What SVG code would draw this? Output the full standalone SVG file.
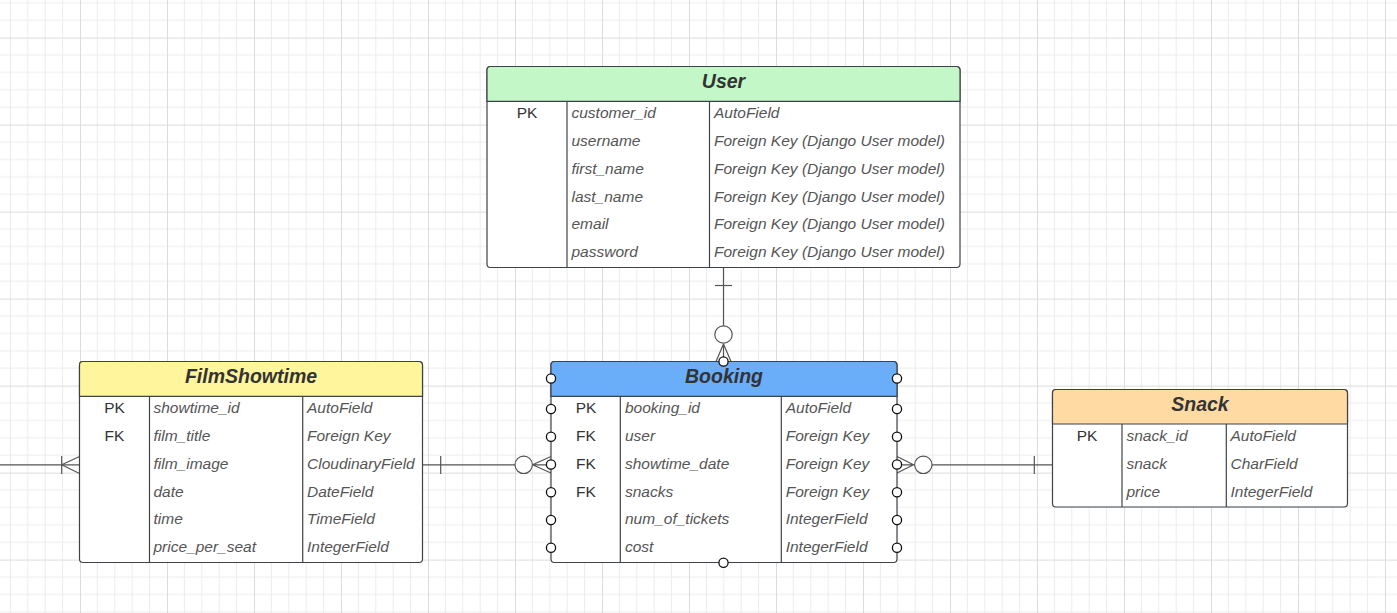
<svg xmlns="http://www.w3.org/2000/svg" width="1397" height="613" viewBox="0 0 1397 613">
<style>
.box{fill:#fff;stroke:#3d4248;stroke-width:1.2}
.div{stroke:#3d4248;stroke-width:1.2}
.hd{font-family:"Liberation Sans",Arial,sans-serif;font-weight:bold;font-style:italic;font-size:19.5px;fill:#333;text-anchor:middle}
.k{font-family:"Liberation Sans",Arial,sans-serif;font-size:15.5px;fill:#333;text-anchor:middle}
.t{font-family:"Liberation Sans",Arial,sans-serif;font-style:italic;font-size:15.5px;fill:#555}
.ln{fill:none;stroke:#555;stroke-width:1.2}
.cp{fill:#fff;stroke:#111;stroke-width:1.3}
.oc{fill:#fff;stroke:#555;stroke-width:1.2}
</style>
<defs>
<pattern id="grid" patternUnits="userSpaceOnUse" x="80" y="37.6" width="87" height="87">
<path d="M17.4 0V87M34.8 0V87M52.2 0V87M69.6 0V87M0 17.4H87M0 34.8H87M0 52.2H87M0 69.6H87" stroke="#ececec" stroke-width="1" fill="none"/>
<path d="M0.5 0V87M0 0.5H87" stroke="#dcdcdc" stroke-width="1" fill="none"/>
</pattern>
</defs>
<rect width="1397" height="613" fill="#fff"/>
<rect width="1397" height="613" fill="url(#grid)"/>

<g id="connectors">
<!-- User to Booking -->
<line class="ln" x1="723.5" y1="268" x2="723.5" y2="326"/>
<line class="ln" x1="715" y1="285.5" x2="732" y2="285.5"/>
<circle class="oc" cx="723.5" cy="334.5" r="8.7"/>
<path class="ln" d="M723.5 344V361.5M723.5 344L716 361.5M723.5 344L731 361.5"/>
<!-- FilmShowtime to Booking -->
<line class="ln" x1="423" y1="464.8" x2="515" y2="464.8"/>
<line class="ln" x1="440.7" y1="456" x2="440.7" y2="474"/>
<circle class="oc" cx="523.7" cy="464.8" r="8.7"/>
<path class="ln" d="M532.5 464.8H551M532.5 464.8L551 456.5M532.5 464.8L551 473"/>
<!-- Booking to Snack -->
<path class="ln" d="M897 464.8H914.5M897 456.5L913.5 464.8M897 473L913.5 464.8"/>
<circle class="oc" cx="923.3" cy="464.8" r="8.7"/>
<line class="ln" x1="932" y1="464.8" x2="1052" y2="464.8"/>
<line class="ln" x1="1034.3" y1="456" x2="1034.3" y2="474"/>
<!-- left edge to FilmShowtime -->
<line class="ln" x1="0" y1="464.8" x2="79.5" y2="464.8"/>
<line class="ln" x1="61.7" y1="456" x2="61.7" y2="474"/>
<path class="ln" d="M61.7 464.8L79.5 456.5M61.7 464.8L79.5 473.5"/>
</g>

<g id="user">
<rect class="box" x="487" y="66.5" width="473" height="201" rx="3.5"/>
<path d="M487 101.3V70A3.5 3.5 0 0 1 490.5 66.5H956.5A3.5 3.5 0 0 1 960 70V101.3Z" fill="#c3f7c8" stroke="#3d4248" stroke-width="1.2"/>
<line class="div" x1="567" y1="101.3" x2="567" y2="267.5"/>
<line class="div" x1="709.5" y1="101.3" x2="709.5" y2="267.5"/>
<text class="hd" x="723.5" y="87.5">User</text>
<text class="k" x="527" y="118.3">PK</text>
<text class="t" x="571.5" y="118.3">customer_id</text>
<text class="t" x="714" y="118.3">AutoField</text>
<text class="t" x="571.5" y="146">username</text>
<text class="t" x="714" y="146">Foreign Key (Django User model)</text>
<text class="t" x="571.5" y="173.8">first_name</text>
<text class="t" x="714" y="173.8">Foreign Key (Django User model)</text>
<text class="t" x="571.5" y="201.5">last_name</text>
<text class="t" x="714" y="201.5">Foreign Key (Django User model)</text>
<text class="t" x="571.5" y="229.3">email</text>
<text class="t" x="714" y="229.3">Foreign Key (Django User model)</text>
<text class="t" x="571.5" y="257">password</text>
<text class="t" x="714" y="257">Foreign Key (Django User model)</text>
</g>

<g id="filmshowtime">
<rect class="box" x="79.5" y="361.5" width="343" height="201" rx="3.5"/>
<path d="M79.5 396.3V365A3.5 3.5 0 0 1 83 361.5H419A3.5 3.5 0 0 1 422.5 365V396.3Z" fill="#fff59d" stroke="#3d4248" stroke-width="1.2"/>
<line class="div" x1="149.5" y1="396.3" x2="149.5" y2="562.5"/>
<line class="div" x1="302.7" y1="396.3" x2="302.7" y2="562.5"/>
<text class="hd" x="251" y="382.5">FilmShowtime</text>
<text class="k" x="114.5" y="413.3">PK</text>
<text class="k" x="114.5" y="441">FK</text>
<text class="t" x="153.5" y="413.3">showtime_id</text>
<text class="t" x="307" y="413.3">AutoField</text>
<text class="t" x="153.5" y="441">film_title</text>
<text class="t" x="307" y="441">Foreign Key</text>
<text class="t" x="153.5" y="468.8">film_image</text>
<text class="t" x="307" y="468.8">CloudinaryField</text>
<text class="t" x="153.5" y="496.5">date</text>
<text class="t" x="307" y="496.5">DateField</text>
<text class="t" x="153.5" y="524.3">time</text>
<text class="t" x="307" y="524.3">TimeField</text>
<text class="t" x="153.5" y="552">price_per_seat</text>
<text class="t" x="307" y="552">IntegerField</text>
</g>

<g id="booking">
<rect class="box" x="551" y="361.5" width="346" height="201" rx="3.5"/>
<path d="M551 396.3V365A3.5 3.5 0 0 1 554.5 361.5H893.5A3.5 3.5 0 0 1 897 365V396.3Z" fill="#6aaefa" stroke="#3d4248" stroke-width="1.2"/>
<line class="div" x1="620.3" y1="396.3" x2="620.3" y2="562.5"/>
<line class="div" x1="781.3" y1="396.3" x2="781.3" y2="562.5"/>
<text class="hd" x="724" y="382.5">Booking</text>
<text class="k" x="586" y="413.3">PK</text>
<text class="k" x="586" y="441">FK</text>
<text class="k" x="586" y="468.8">FK</text>
<text class="k" x="586" y="496.5">FK</text>
<text class="t" x="625" y="413.3">booking_id</text>
<text class="t" x="785.7" y="413.3">AutoField</text>
<text class="t" x="625" y="441">user</text>
<text class="t" x="785.7" y="441">Foreign Key</text>
<text class="t" x="625" y="468.8">showtime_date</text>
<text class="t" x="785.7" y="468.8">Foreign Key</text>
<text class="t" x="625" y="496.5">snacks</text>
<text class="t" x="785.7" y="496.5">Foreign Key</text>
<text class="t" x="625" y="524.3">num_of_tickets</text>
<text class="t" x="785.7" y="524.3">IntegerField</text>
<text class="t" x="625" y="552">cost</text>
<text class="t" x="785.7" y="552">IntegerField</text>
<circle class="cp" cx="723.5" cy="361.5" r="4.6"/>
<circle class="cp" cx="723.5" cy="562.7" r="4.6"/>
<circle class="cp" cx="551" cy="378.5" r="4.6"/>
<circle class="cp" cx="551" cy="409" r="4.6"/>
<circle class="cp" cx="551" cy="436.7" r="4.6"/>
<circle class="cp" cx="551" cy="464.5" r="4.6"/>
<circle class="cp" cx="551" cy="492.2" r="4.6"/>
<circle class="cp" cx="551" cy="520" r="4.6"/>
<circle class="cp" cx="551" cy="547.7" r="4.6"/>
<circle class="cp" cx="897" cy="378.5" r="4.6"/>
<circle class="cp" cx="897" cy="409" r="4.6"/>
<circle class="cp" cx="897" cy="436.7" r="4.6"/>
<circle class="cp" cx="897" cy="464.5" r="4.6"/>
<circle class="cp" cx="897" cy="492.2" r="4.6"/>
<circle class="cp" cx="897" cy="520" r="4.6"/>
<circle class="cp" cx="897" cy="547.7" r="4.6"/>
</g>

<g id="snack">
<rect class="box" x="1052.5" y="389.5" width="295" height="117.5" rx="3.5"/>
<path d="M1052.5 424V393A3.5 3.5 0 0 1 1056 389.5H1344A3.5 3.5 0 0 1 1347.5 393V424Z" fill="#ffdba3" stroke="#3d4248" stroke-width="1.2"/>
<line class="div" x1="1122" y1="424" x2="1122" y2="507"/>
<line class="div" x1="1226.3" y1="424" x2="1226.3" y2="507"/>
<text class="hd" x="1200" y="410.5">Snack</text>
<text class="k" x="1087" y="441">PK</text>
<text class="t" x="1126.5" y="441">snack_id</text>
<text class="t" x="1230.5" y="441">AutoField</text>
<text class="t" x="1126.5" y="468.8">snack</text>
<text class="t" x="1230.5" y="468.8">CharField</text>
<text class="t" x="1126.5" y="496.5">price</text>
<text class="t" x="1230.5" y="496.5">IntegerField</text>
</g>
</svg>
